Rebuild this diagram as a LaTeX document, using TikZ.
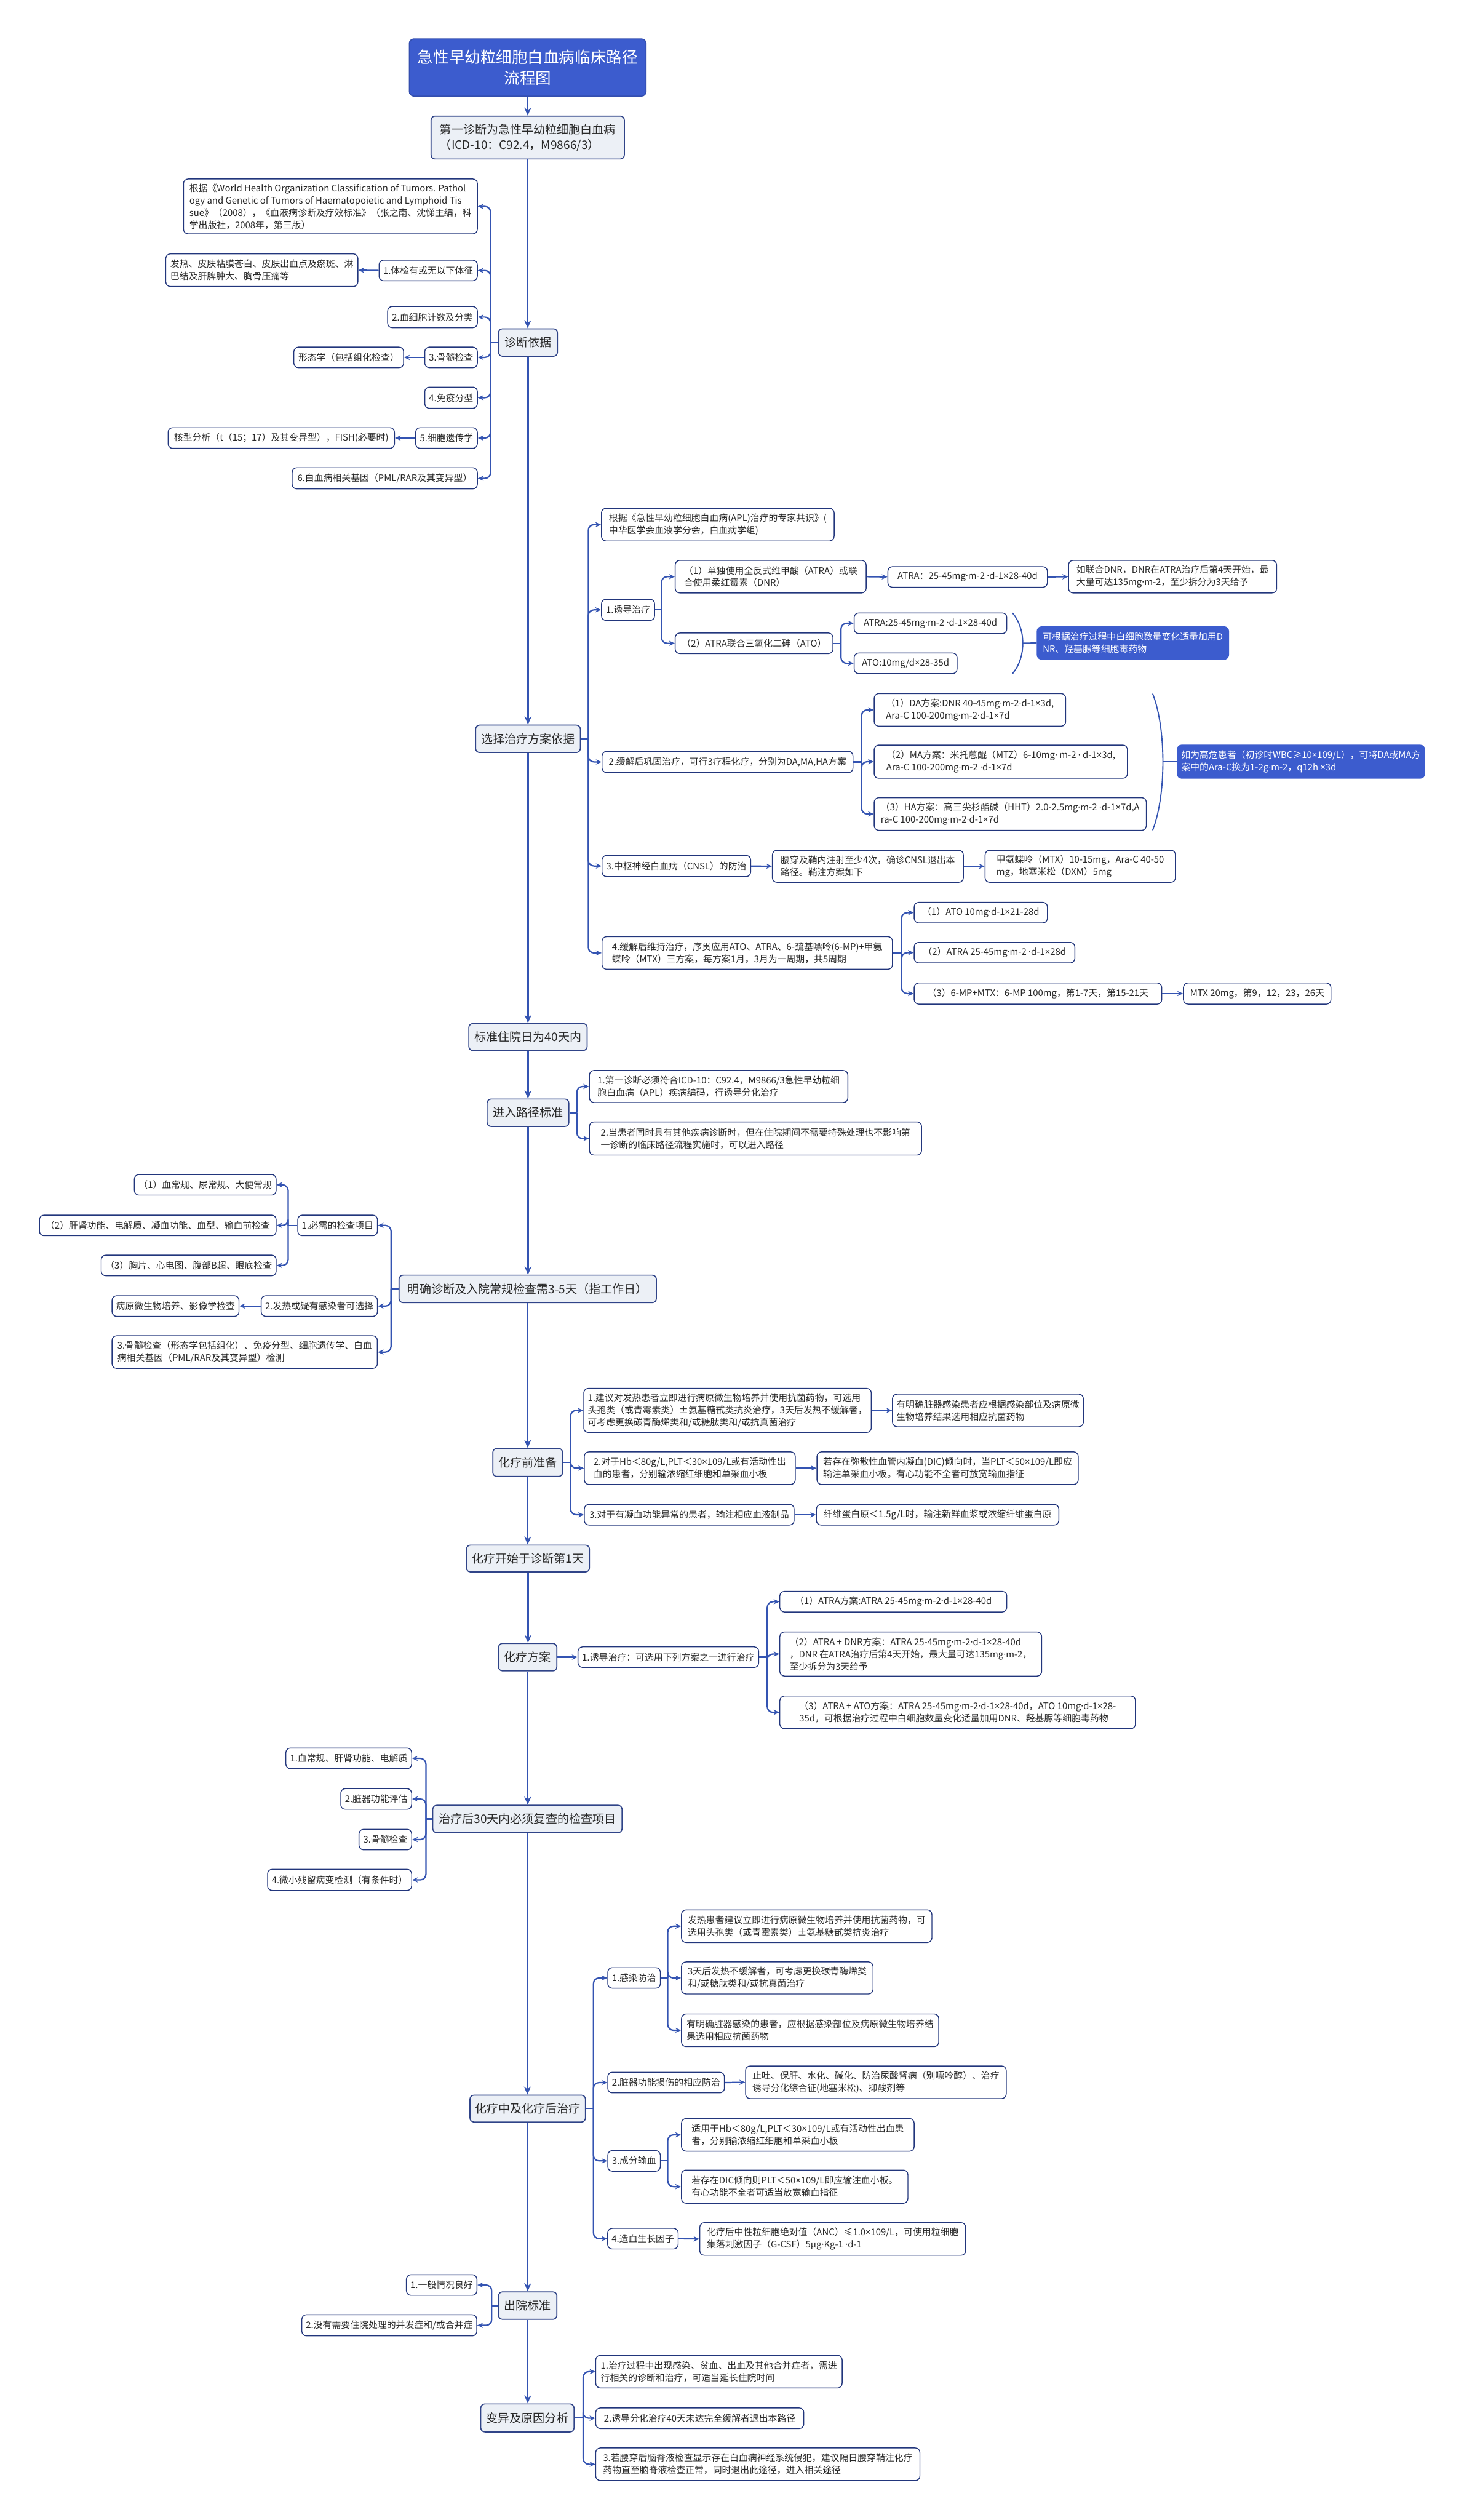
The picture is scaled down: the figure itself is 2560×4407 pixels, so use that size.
\documentclass[tikz,border=0pt]{standalone}
\usepackage{fontspec}
\setmainfont{Noto Sans CJK SC}
\newfontfamily\latinfont{Noto Sans}
\usepackage{newunicodechar}
\newunicodechar{·}{{\latinfont\symbol{"00B7}}}
\newunicodechar{×}{{\latinfont\symbol{"00D7}}}
\usetikzlibrary{arrows.meta,calc}
\definecolor{conncol}{RGB}{52,84,178}
\definecolor{leafborder}{RGB}{34,54,124}
\definecolor{mainfill}{RGB}{236,240,246}
\definecolor{mainborder}{RGB}{48,68,136}
\definecolor{bluefill}{RGB}{60,92,206}
\definecolor{textcol}{RGB}{40,40,40}
\tikzset{
  mainbox/.style={draw=mainborder, fill=mainfill, line width=1.8pt, rounded corners=7pt,
    font=\fontsize{20.5}{27}\selectfont, align=left, inner xsep=8pt, inner ysep=3pt, text=textcol},
  leaf/.style={draw=leafborder, fill=white, line width=1.5pt, rounded corners=8pt,
    font=\fontsize{16}{21.5}\selectfont, align=left, inner xsep=7pt, inner ysep=3pt, text=textcol},
  bluebox/.style={draw=bluefill, fill=bluefill, line width=1.5pt, rounded corners=8pt,
    font=\fontsize{16}{21.5}\selectfont, align=left, inner xsep=7pt, inner ysep=3pt, text=white},
  titlebox/.style={draw=bluefill!85!black, fill=bluefill, line width=1.8pt, rounded corners=8pt,
    font=\fontsize{27.5}{36.6}\selectfont, align=center, text=white},
  conn/.style={draw=conncol, line width=2.4pt, rounded corners=10pt},
  spine/.style={draw=conncol, line width=3pt, -{Stealth[length=14pt,width=12pt]}},
  arr/.style={-{Stealth[length=10pt,width=9pt]}}
}
\newcommand\mkbox[7]{\node[#6, minimum width={(#4-#2)*1pt}, minimum height={(#5-#3)*1pt}] (#1) at ({(#2+#4)/2},{(#3+#5)/2}) {#7};}
\newcommand\rbr[3]{\draw[conn] (#1.east) -- (#1.east -| #2);
  \foreach \ch in {#3} {\draw[conn,arr] (#1.east -| #2) |- (\ch.west);}}
\newcommand\lbr[3]{\draw[conn] (#1.west) -- (#1.west -| #2);
  \foreach \ch in {#3} {\draw[conn,arr] (#1.west -| #2) |- (\ch.east);}}
\begin{document}
\begin{tikzpicture}[x=1pt,y=-1pt]
\fill[white] (0,0) rectangle (2560,4407);
\useasboundingbox (0,0) rectangle (2560,4407);

% ---------- spine nodes ----------
\mkbox{title}{716}{68}{1130}{168}{titlebox}{急性早幼粒细胞白血病临床路径\\流程图}
\mkbox{diag1}{754}{203}{1092}{278}{mainbox}{第一诊断为急性早幼粒细胞白血病\\（ICD-10：C92.4，M9866/3）}
\mkbox{zd}{872}{575}{975}{623}{mainbox}{诊断依据}
\mkbox{xz}{832}{1268}{1015}{1316}{mainbox}{选择治疗方案依据}
\mkbox{zy}{820}{1790}{1027}{1837}{mainbox}{标准住院日为40天内}
\mkbox{jr}{852}{1922}{995}{1970}{mainbox}{进入路径标准}
\mkbox{mq}{698}{2230}{1148}{2278}{mainbox}{明确诊断及入院常规检查需3-5天（指工作日）}
\mkbox{hl}{862}{2533}{984}{2582}{mainbox}{化疗前准备}
\mkbox{ks}{816}{2702}{1031}{2749}{mainbox}{化疗开始于诊断第1天}
\mkbox{fa}{872}{2874}{974}{2922}{mainbox}{化疗方案}
\mkbox{fc}{757}{3157}{1088}{3205}{mainbox}{治疗后30天内必须复查的检查项目}
\mkbox{zl}{822}{3664}{1024}{3711}{mainbox}{化疗中及化疗后治疗}
\mkbox{cy}{872}{4008}{974}{4056}{mainbox}{出院标准}
\mkbox{by}{841}{4204}{1004}{4253}{mainbox}{变异及原因分析}

\foreach \a/\b in {title/diag1,diag1/zd,zd/xz,xz/zy,zy/jr,jr/mq,mq/hl,hl/ks,ks/fa,fa/fc,fc/zl,zl/cy,cy/by}
  {\draw[spine] (\a.south) -- (\a.south |- \b.north);}

% ---------- 诊断依据 ----------
\mkbox{c0}{321}{313}{835}{409}{leaf}{根据《World Health Organization Classification of Tumors. Pathol\\ogy and Genetic of Tumors of Haematopoietic and Lymphoid Tis\\sue》（2008），《血液病诊断及疗效标准》（张之南、沈悌主编，科\\学出版社，2008年，第三版）}
\mkbox{c1}{663}{455}{835}{491}{leaf}{1.体检有或无以下体征}
\mkbox{c1a}{290}{444}{626}{501}{leaf}{发热、皮肤粘膜苍白、皮肤出血点及瘀斑、淋\\巴结及肝脾肿大、胸骨压痛等}
\mkbox{c2}{678}{536}{835}{573}{leaf}{2.血细胞计数及分类}
\mkbox{c3}{743}{607}{835}{643}{leaf}{3.骨髓检查}
\mkbox{c3a}{514}{607}{706}{643}{leaf}{形态学（包括组化检查）}
\mkbox{c4}{743}{677}{835}{714}{leaf}{4.免疫分型}
\mkbox{c5}{727}{748}{835}{784}{leaf}{5.细胞遗传学}
\mkbox{c5a}{294}{748}{690}{784}{leaf}{核型分析（t（15；17）及其变异型），FISH(必要时)}
\mkbox{c6}{511}{818}{835}{855}{leaf}{6.白血病相关基因（PML/RAR及其变异型）}
\coordinate (bzd) at (858,0);
\lbr{zd}{bzd}{c0,c1,c2,c3,c4,c5,c6}
\draw[conn,arr] (c1.west) -- (c1a.east);
\draw[conn,arr] (c3.west) -- (c3a.east);
\draw[conn,arr] (c5.west) -- (c5a.east);

% ---------- 选择治疗方案依据 ----------
\mkbox{t0}{1052}{889}{1459}{946}{leaf}{根据《急性早幼粒细胞白血病(APL)治疗的专家共识》(\\中华医学会血液学分会，白血病学组)}
\mkbox{t1}{1052}{1048}{1145}{1085}{leaf}{1.诱导治疗}
\mkbox{i1}{1181}{980}{1515}{1037}{leaf}{（1）单独使用全反式维甲酸（ATRA）或联\\合使用柔红霉素（DNR）}
\mkbox{i1a}{1553}{991}{1832}{1027}{leaf}{ATRA：25-45mg·m-2 ·d-1×28-40d}
\mkbox{i1b}{1869}{980}{2233}{1037}{leaf}{如联合DNR，DNR在ATRA治疗后第4天开始，最\\大量可达135mg·m-2，至少拆分为3天给予}
\mkbox{i2}{1181}{1107}{1457}{1143}{leaf}{（2）ATRA联合三氧化二砷（ATO）}
\mkbox{i2a}{1494}{1072}{1761}{1108}{leaf}{ATRA:25-45mg·m-2 ·d-1×28-40d}
\mkbox{i2b}{1494}{1142}{1674}{1178}{leaf}{ATO:10mg/d×28-35d}
\mkbox{blue1}{1814}{1096}{2149}{1153}{bluebox}{可根据治疗过程中白细胞数量变化适量加用D\\NR、羟基脲等细胞毒药物}
\mkbox{t2}{1053}{1314}{1492}{1351}{leaf}{2.缓解后巩固治疗，可行3疗程化疗，分别为DA,MA,HA方案}
\mkbox{d1}{1529}{1213}{1864}{1270}{leaf}{（1）DA方案:DNR 40-45mg·m-2·d-1×3d,\\Ara-C 100-200mg·m-2·d-1×7d}
\mkbox{d2}{1529}{1303}{1972}{1361}{leaf}{（2）MA方案：米托蒽醌（MTZ）6-10mg· m-2 · d-1×3d,\\Ara-C 100-200mg·m-2 ·d-1×7d}
\mkbox{d3}{1529}{1395}{2005}{1452}{leaf}{（3）HA方案：高三尖杉酯碱（HHT）2.0-2.5mg·m-2 ·d-1×7d,A\\ra-C 100-200mg·m-2·d-1×7d}
\mkbox{blue2}{2059}{1303}{2492}{1361}{bluebox}{如为高危患者（初诊时WBC≥10×109/L），可将DA或MA方\\案中的Ara-C换为1-2g·m-2，q12h ×3d}
\mkbox{t3}{1053}{1496}{1313}{1533}{leaf}{3.中枢神经白血病（CNSL）的防治}
\mkbox{t3a}{1351}{1487}{1685}{1543}{leaf}{腰穿及鞘内注射至少4次，确诊CNSL退出本\\路径。鞘注方案如下}
\mkbox{t3b}{1723}{1487}{2056}{1543}{leaf}{甲氨蝶呤（MTX）10-15mg，Ara-C 40-50\\mg，地塞米松（DXM）5mg}
\mkbox{t4}{1053}{1638}{1561}{1695}{leaf}{4.缓解后维持治疗，序贯应用ATO、ATRA、6-巯基嘌呤(6-MP)+甲氨\\蝶呤（MTX）三方案，每方案1月，3月为一周期，共5周期}
\mkbox{m1}{1599}{1578}{1832}{1614}{leaf}{（1）ATO 10mg·d-1×21-28d}
\mkbox{m2}{1599}{1648}{1880}{1684}{leaf}{（2）ATRA 25-45mg·m-2 ·d-1×28d}
\mkbox{m3}{1599}{1719}{2032}{1756}{leaf}{（3）6-MP+MTX：6-MP 100mg，第1-7天，第15-21天}
\mkbox{m3a}{2070}{1719}{2328}{1756}{leaf}{MTX 20mg，第9，12，23，26天}
\coordinate (bxz) at (1029,0);
\coordinate (bt1) at (1157,0);
\coordinate (bi2) at (1471,0);
\coordinate (bt2) at (1507,0);
\coordinate (bt4) at (1577,0);
\rbr{xz}{bxz}{t0,t1,t2,t3,t4}
\rbr{t1}{bt1}{i1,i2}
\rbr{i2}{bi2}{i2a,i2b}
\rbr{t2}{bt2}{d1,d2,d3}
\rbr{t4}{bt4}{m1,m2,m3}
\draw[conn,arr] (i1.east) -- (i1a.west);
\draw[conn,arr] (i1a.east) -- (i1b.west);
\draw[conn,arr] (t3.east) -- (t3a.west);
\draw[conn,arr] (t3a.east) -- (t3b.west);
\draw[conn,arr] (m3.east) -- (m3a.west);
% brackets
\coordinate (br1t) at (1771,1072);
\coordinate (br1b) at (1771,1178);
\coordinate (br1m) at (1789,1125);
\draw[conn, line width=2pt] (br1t) .. controls (1795,1100) and (1795,1150) .. (br1b);
\draw[conn] (br1m) -- (blue1.west);
\coordinate (br2t) at (2016,1213);
\coordinate (br2b) at (2016,1452);
\coordinate (br2m) at (2034,1332);
\draw[conn, line width=2pt] (br2t) .. controls (2040,1273) and (2040,1392) .. (br2b);
\draw[conn] (br2m) -- (blue2.west);

% ---------- 进入路径标准 ----------
\mkbox{e1}{1031}{1872}{1483}{1928}{leaf}{1.第一诊断必须符合ICD-10：C92.4，M9866/3急性早幼粒细\\胞白血病（APL）疾病编码，行诱导分化治疗}
\mkbox{e2}{1031}{1962}{1612}{2020}{leaf}{2.当患者同时具有其他疾病诊断时，但在住院期间不需要特殊处理也不影响第\\一诊断的临床路径流程实施时，可以进入路径}
\coordinate (bjr) at (1009,0);
\rbr{jr}{bjr}{e1,e2}

% ---------- 明确诊断 ----------
\mkbox{k1}{521}{2125}{660}{2161}{leaf}{1.必需的检查项目}
\mkbox{k1a}{235}{2054}{483}{2090}{leaf}{（1）血常规、尿常规、大便常规}
\mkbox{k1b}{69}{2125}{483}{2161}{leaf}{（2）肝肾功能、电解质、凝血功能、血型、输血前检查}
\mkbox{k1c}{177}{2195}{483}{2231}{leaf}{（3）胸片、心电图、腹部B超、眼底检查}
\mkbox{k2}{457}{2266}{660}{2302}{leaf}{2.发热或疑有感染者可选择}
\mkbox{k2a}{196}{2266}{418}{2302}{leaf}{病原微生物培养、影像学检查}
\mkbox{k3}{196}{2336}{660}{2393}{leaf}{3.骨髓检查（形态学包括组化）、免疫分型、细胞遗传学、白血\\病相关基因（PML/RAR及其变异型）检测}
\coordinate (bmq) at (684,0);
\coordinate (bk1) at (504,0);
\lbr{mq}{bmq}{k1,k2,k3}
\lbr{k1}{bk1}{k1a,k1b,k1c}
\draw[conn,arr] (k2.west) -- (k2a.east);

% ---------- 化疗前准备 ----------
\mkbox{p1}{1022}{2428}{1523}{2505}{leaf}{1.建议对发热患者立即进行病原微生物培养并使用抗菌药物，可选用\\头孢类（或青霉素类）±氨基糖甙类抗炎治疗，3天后发热不缓解者，\\可考虑更换碳青酶烯类和/或糖肽类和/或抗真菌治疗}
\mkbox{p1a}{1561}{2438}{1895}{2495}{leaf}{有明确脏器感染患者应根据感染部位及病原微\\生物培养结果选用相应抗菌药物}
\mkbox{p2}{1022}{2539}{1391}{2596}{leaf}{2.对于Hb＜80g/L,PLT＜30×109/L或有活动性出\\血的患者，分别输浓缩红细胞和单采血小板}
\mkbox{p2a}{1429}{2539}{1886}{2596}{leaf}{若存在弥散性血管内凝血(DIC)倾向时，当PLT＜50×109/L即应\\输注单采血小板。有心功能不全者可放宽输血指征}
\mkbox{p3}{1022}{2631}{1389}{2667}{leaf}{3.对于有凝血功能异常的患者，输注相应血液制品}
\mkbox{p3a}{1428}{2631}{1852}{2667}{leaf}{纤维蛋白原＜1.5g/L时，输注新鲜血浆或浓缩纤维蛋白原}
\coordinate (bhl) at (998,0);
\rbr{hl}{bhl}{p1,p2,p3}
\draw[conn,arr] (p1.east) -- (p1a.west);
\draw[conn,arr] (p2.east) -- (p2a.west);
\draw[conn,arr] (p3.east) -- (p3a.west);

% ---------- 化疗方案 ----------
\mkbox{q1}{1011}{2880}{1327}{2916}{leaf}{1.诱导治疗：可选用下列方案之一进行治疗}
\mkbox{q1a}{1364}{2783}{1761}{2819}{leaf}{（1）ATRA方案:ATRA 25-45mg·m-2·d-1×28-40d}
\mkbox{q1b}{1364}{2854}{1822}{2931}{leaf}{（2）ATRA + DNR方案：ATRA 25-45mg·m-2·d-1×28-40d\\，DNR 在ATRA治疗后第4天开始，最大量可达135mg·m-2，\\至少拆分为3天给予}
\mkbox{q1c}{1364}{2966}{1986}{3023}{leaf}{（3）ATRA + ATO方案：ATRA 25-45mg·m-2·d-1×28-40d，ATO 10mg·d-1×28-\\35d，可根据治疗过程中白细胞数量变化适量加用DNR、羟基脲等细胞毒药物}
\draw[conn,arr] (fa.east) -- (q1.west);
\coordinate (bq1) at (1342,0);
\rbr{q1}{bq1}{q1a,q1b,q1c}

% ---------- 治疗后30天 ----------
\mkbox{r1}{500}{3057}{720}{3093}{leaf}{1.血常规、肝肾功能、电解质}
\mkbox{r2}{596}{3128}{720}{3164}{leaf}{2.脏器功能评估}
\mkbox{r3}{628}{3199}{720}{3235}{leaf}{3.骨髓检查}
\mkbox{r4}{468}{3269}{720}{3306}{leaf}{4.微小残留病变检测（有条件时）}
\coordinate (bfc) at (745,0);
\lbr{fc}{bfc}{r1,r2,r3,r4}

% ---------- 化疗中及化疗后治疗 ----------
\mkbox{s1}{1063}{3441}{1155}{3477}{leaf}{1.感染防治}
\mkbox{s1a}{1192}{3340}{1630}{3397}{leaf}{发热患者建议立即进行病原微生物培养并使用抗菌药物，可\\选用头孢类（或青霉素类）±氨基糖甙类抗炎治疗}
\mkbox{s1b}{1192}{3431}{1527}{3487}{leaf}{3天后发热不缓解者，可考虑更换碳青酶烯类\\和/或糖肽类和/或抗真菌治疗}
\mkbox{s1c}{1192}{3522}{1642}{3579}{leaf}{有明确脏器感染的患者，应根据感染部位及病原微生物培养结\\果选用相应抗菌药物}
\mkbox{s2}{1063}{3624}{1267}{3660}{leaf}{2.脏器功能损伤的相应防治}
\mkbox{s2a}{1304}{3613}{1760}{3670}{leaf}{止吐、保肝、水化、碱化、防治尿酸肾病（别嘌呤醇）、治疗\\诱导分化综合征(地塞米松)、抑酸剂等}
\mkbox{s3}{1063}{3761}{1155}{3797}{leaf}{3.成分输血}
\mkbox{s3a}{1192}{3705}{1599}{3762}{leaf}{适用于Hb＜80g/L,PLT＜30×109/L或有活动性出血患\\者，分别输浓缩红细胞和单采血小板}
\mkbox{s3b}{1192}{3795}{1588}{3853}{leaf}{若存在DIC倾向则PLT＜50×109/L即应输注血小板。\\有心功能不全者可适当放宽输血指征}
\mkbox{s4}{1063}{3897}{1186}{3933}{leaf}{4.造血生长因子}
\mkbox{s4a}{1224}{3887}{1689}{3944}{leaf}{化疗后中性粒细胞绝对值（ANC）≤1.0×109/L，可使用粒细胞\\集落刺激因子（G-CSF）5μg·Kg-1 ·d-1}
\coordinate (bzl) at (1038,0);
\coordinate (bs) at (1168,0);
\rbr{zl}{bzl}{s1,s2,s3,s4}
\rbr{s1}{bs}{s1a,s1b,s1c}
\rbr{s3}{bs}{s3a,s3b}
\draw[conn,arr] (s2.east) -- (s2a.west);
\draw[conn,arr] (s4.east) -- (s4a.west);

% ---------- 出院标准 ----------
\mkbox{o1}{711}{3978}{834}{4014}{leaf}{1.一般情况良好}
\mkbox{o2}{528}{4048}{834}{4085}{leaf}{2.没有需要住院处理的并发症和/或合并症}
\coordinate (bcy) at (860,0);
\lbr{cy}{bcy}{o1,o2}

% ---------- 变异及原因分析 ----------
\mkbox{v1}{1042}{4119}{1473}{4176}{leaf}{1.治疗过程中出现感染、贫血、出血及其他合并症者，需进\\行相关的诊断和治疗，可适当延长住院时间}
\mkbox{v2}{1042}{4211}{1406}{4247}{leaf}{2.诱导分化治疗40天未达完全缓解者退出本路径}
\mkbox{v3}{1042}{4281}{1609}{4338}{leaf}{3.若腰穿后脑脊液检查显示存在白血病神经系统侵犯，建议隔日腰穿鞘注化疗\\药物直至脑脊液检查正常，同时退出此途径，进入相关途径}
\coordinate (bby) at (1020,0);
\rbr{by}{bby}{v1,v2,v3}
\end{tikzpicture}
\end{document}
